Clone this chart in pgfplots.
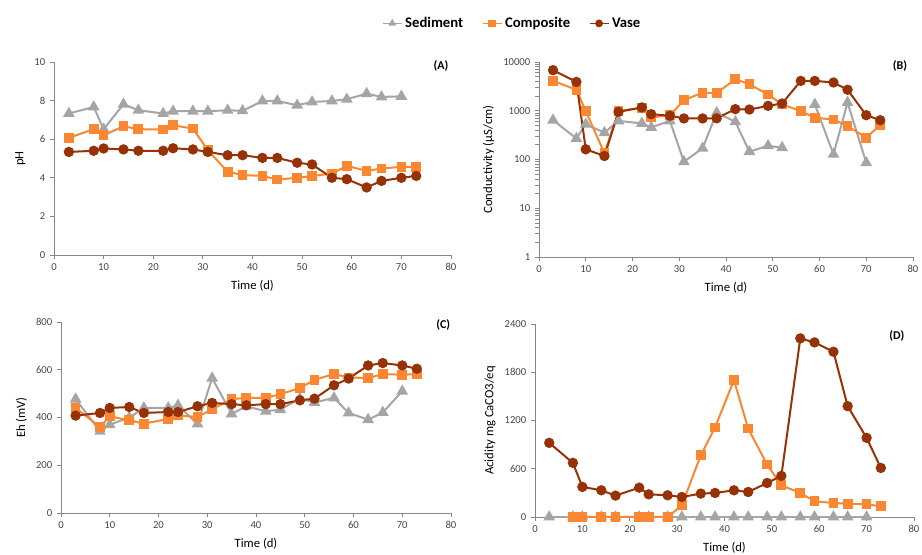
\documentclass[border=0pt]{standalone}
\usepackage{fontspec}
\setmainfont{Carlito}
\usepackage{pgfplots}
\pgfplotsset{compat=1.18}

\definecolor{sedc}{RGB}{165,165,165}
\definecolor{comc}{RGB}{250,135,50}
\definecolor{vasc}{RGB}{150,50,5}
\definecolor{axc}{RGB}{134,134,134}
\definecolor{tickc}{RGB}{70,70,70}

\tikzset{plab/.style={font=\bfseries\fontsize{9}{10}\selectfont}}

\pgfplotsset{
  exc/.style={
    scale only axis,
    axis lines=left,
    axis line style={axc, line width=0.6pt, -},
    tick style={axc, line width=0.6pt},
    major tick length=3pt,
    tick align=outside,
    xmin=0, xmax=80, xtick={0,10,...,80},
    ticklabel style={font=\fontsize{8}{9}\selectfont, text=tickc},
    label style={font=\fontsize{9.5}{11}\selectfont, text=black},
    xlabel={Time (d)},
    /pgf/number format/assume math mode=true,
    /pgf/number format/1000 sep={},
    clip=false,
    every axis plot/.append style={line width=1.5pt},
    legend image code/.code={
      \draw[mark repeat=2, mark phase=2, ##1, line width=1.2pt, mark size=2.3pt]
        plot coordinates {(0cm,0cm) (0.25cm,0cm) (0.5cm,0cm)};},
  },
  sed/.style={sedc, mark=triangle*, mark size=3.6pt},
  com/.style={comc, mark=square*, mark size=2.9pt},
  vas/.style={vasc, mark=*, mark size=3.1pt},
}

\begin{document}
\begin{tikzpicture}
\useasboundingbox (0,0) rectangle (691.5pt,415.5pt);

% (A) pH
\begin{axis}[exc, at={(40.5pt,224.25pt)}, anchor=south west,
  width=297.75pt, height=144.75pt,
  ymin=0, ymax=10, ytick={0,2,...,10}, ylabel={pH},
  legend style={at={(1.155,1.20)}, anchor=center, legend columns=3,
    draw=none, fill=none, font=\bfseries\fontsize{11}{12}\selectfont,
    /tikz/every even column/.append style={column sep=12pt}},
]
\addplot[sed] coordinates {
  (3,7.33)(8,7.67)(10,6.52)(14,7.81)(17,7.5)(22,7.33)(24,7.45)(28,7.45)
  (31,7.45)(35,7.5)(38,7.47)(42,7.98)(45,7.98)(49,7.76)(52,7.93)(56,7.98)
  (59,8.07)(63,8.36)(66,8.19)(70,8.22)};
\addlegendentry{Sediment}
\addplot[com] coordinates {
  (3,6.07)(8,6.52)(10,6.2)(14,6.67)(17,6.52)(22,6.5)(24,6.72)(28,6.55)
  (31,5.43)(35,4.31)(38,4.14)(42,4.1)(45,3.91)(49,4.0)(52,4.09)(56,4.22)
  (59,4.62)(63,4.36)(66,4.48)(70,4.57)(73,4.57)};
\addlegendentry{Composite}
\addplot[vas] coordinates {
  (3,5.34)(8,5.4)(10,5.52)(14,5.47)(17,5.4)(22,5.4)(24,5.53)(28,5.47)
  (31,5.34)(35,5.17)(38,5.17)(42,5.03)(45,5.03)(49,4.78)(52,4.69)(56,4.0)
  (59,3.93)(63,3.5)(66,3.84)(70,4.0)(73,4.1)};
\addlegendentry{Vase}
\node[plab] at (rel axis cs:0.975,0.98) {(A)};
\end{axis}

% (B) Conductivity
\begin{axis}[exc, at={(404.25pt,222.75pt)}, anchor=south west,
  width=280.5pt, height=146.25pt,
  ymode=log, ymin=1, ymax=10000,
  ytick={1,10,100,1000,10000}, yticklabels={1,10,100,1000,10000},
  ylabel={Conductivity (µS/cm)},
  unbounded coords=jump,
]
\addplot[sed] coordinates {
  (3,642)(8,270)(10,530)(14,355)(17,620)(22,550)(24,455)(28,620)
  (31,90)(35,170)(38,910)(42,595)(45,145)(49,192)(52,175)(56,nan)
  (59,1350)(63,128)(66,1475)(70,86)};
\addplot[com] coordinates {
  (3,4100)(8,2700)(10,985)(14,134)(17,985)(22,1150)(24,730)(28,810)
  (31,1650)(35,2350)(38,2300)(42,4450)(45,3500)(49,2150)(52,1350)(56,985)
  (59,720)(63,660)(66,485)(70,280)(73,510)};
\addplot[vas] coordinates {
  (3,6800)(8,3900)(10,162)(14,118)(17,950)(22,1170)(24,850)(28,790)
  (31,695)(35,695)(38,700)(42,1080)(45,1060)(49,1260)(52,1410)(56,4100)
  (59,4100)(63,3800)(66,2700)(70,810)(73,640)};
\node[plab] at (rel axis cs:0.965,0.98) {(B)};
\end{axis}

% (C) Eh
\begin{axis}[exc, at={(45.75pt,30.75pt)}, anchor=south west,
  width=292.5pt, height=143.25pt,
  ymin=0, ymax=800, ytick={0,200,...,800}, ylabel={Eh (mV)},
]
\addplot[sed] coordinates {
  (3,477)(8,342)(10,370)(14,400)(17,440)(22,440)(24,451)(28,373)
  (31,565)(35,415)(38,447)(42,426)(45,433)(49,480)(52,463)(56,482)
  (59,419)(63,391)(66,421)(70,510)};
\addplot[com] coordinates {
  (3,440)(8,360)(10,405)(14,388)(17,374)(22,394)(24,409)(28,402)
  (31,435)(35,477)(38,482)(42,482)(45,498)(49,523)(52,558)(56,582)
  (59,568)(63,565)(66,582)(70,579)(73,582)};
\addplot[vas] coordinates {
  (3,408)(8,419)(10,440)(14,444)(17,419)(22,423)(24,423)(28,447)
  (31,461)(35,456)(38,451)(42,456)(45,456)(49,472)(52,479)(56,535)
  (59,563)(63,618)(66,628)(70,618)(73,604)};
\node[plab] at (rel axis cs:0.98,0.985) {(C)};
\end{axis}

% (D) Acidity
\begin{axis}[exc, at={(401.25pt,27.75pt)}, anchor=south west,
  width=284.25pt, height=144.75pt,
  ymin=0, ymax=2400, ytick={0,600,...,2400}, ylabel={Acidity mg CaCO3/eq},
]
\addplot[sed] coordinates {
  (3,0)(8,0)(10,0)(14,0)(17,0)(22,0)(24,0)(28,0)
  (31,0)(35,0)(38,0)(42,0)(45,0)(49,0)(52,0)(56,0)
  (59,0)(63,0)(66,0)(70,0)};
\addplot[com] coordinates {
  (8,0)(10,0)(14,0)(17,0)(22,0)(24,0)(28,0)
  (31,145)(35,768)(38,1113)(42,1702)(45,1100)(49,652)(52,394)(56,299)
  (59,195)(63,174)(66,166)(70,158)(73,133)};
\addplot[vas] coordinates {
  (3,922)(8,673)(10,374)(14,332)(17,266)(22,365)(24,282)(28,270)
  (31,249)(35,291)(38,299)(42,332)(45,311)(49,423)(52,511)(56,2221)
  (59,2171)(63,2055)(66,1378)(70,984)(73,610)};
\node[plab] at (rel axis cs:0.955,0.94) {(D)};
\end{axis}
\end{tikzpicture}
\end{document}
